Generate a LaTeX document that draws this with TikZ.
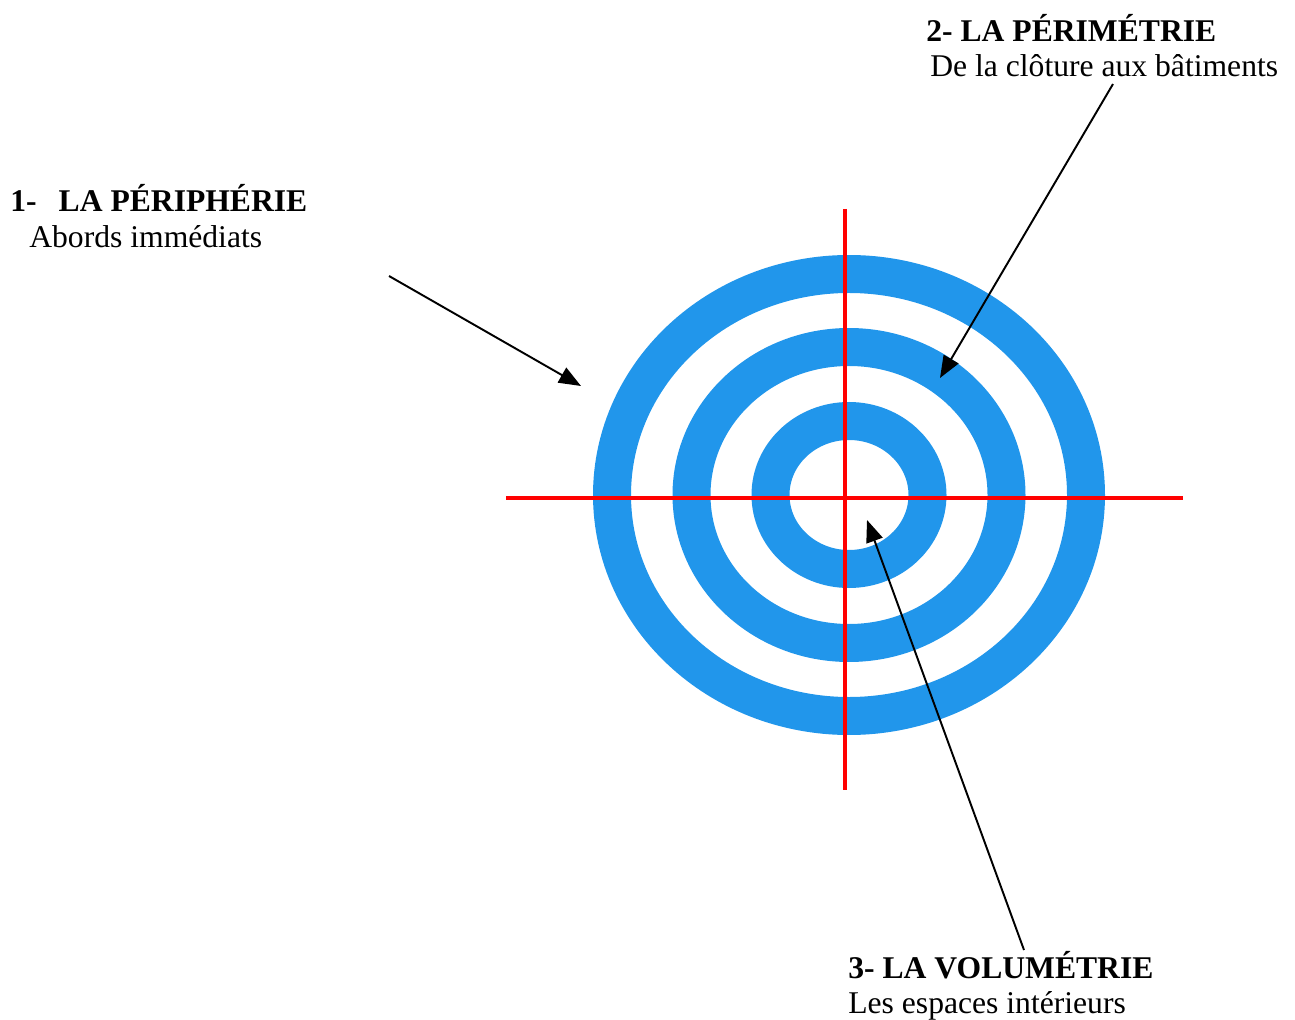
\documentclass[tikz,border=0pt]{standalone}
\usepackage{fontspec}
\setmainfont{Liberation Serif}
\usetikzlibrary{arrows.meta}
\definecolor{ringblue}{RGB}{33,150,235}

\begin{document}
\begin{tikzpicture}[x=0.02cm, y=-0.02cm,
    ring/.style={draw=ringblue, line width=0.76cm},
    cross/.style={draw=red, line width=0.08cm},
    label/.style={anchor=base west, inner sep=0pt, font=\fontsize{18}{22}\selectfont},
    pointer/.style={draw=black, line width=1.1pt, -{Triangle[length=0.44cm, width=0.34cm]}}]
    \useasboundingbox (0,0) rectangle (1295,1020);

    % target
    \draw[ring] (849,495) ellipse [x radius=237, y radius=221];
    \draw[ring] (849,495) ellipse [x radius=157.5, y radius=148];
    \draw[ring] (849,495) ellipse [x radius=78.5, y radius=74];

    % cross hair
    \coordinate (cl) at (506,498);
    \coordinate (cr) at (1183,498);
    \coordinate (ct) at (845,209);
    \coordinate (cb) at (845,790);
    \draw[cross] (cl) -- (cr);
    \draw[cross] (ct) -- (cb);

    % labels
    \node[label] (peri) at (10,212) {\bfseries 1-\hspace{0.44cm}LA PÉRIPHÉRIE};
    \node[label] (perisub) at (29,248) {Abords immédiats};
    \node[label] (perim) at (926,42) {\bfseries 2- LA PÉRIMÉTRIE};
    \node[label] (perimsub) at (930,77) {De la clôture aux bâtiments};
    \node[label] (volu) at (848,978) {\bfseries 3- LA VOLUMÉTRIE};
    \node[label] (volusub) at (848,1013) {Les espaces intérieurs};

    % arrows
    \coordinate (a1) at (389,276);
    \coordinate (b1) at (581,386);
    \coordinate (a2) at (1113,84);
    \coordinate (b2) at (940,378);
    \coordinate (a3) at (1024,950);
    \coordinate (b3) at (867,520);
    \draw[pointer] (a1) -- (b1);
    \draw[pointer] (a2) -- (b2);
    \draw[pointer] (a3) -- (b3);
\end{tikzpicture}
\end{document}
